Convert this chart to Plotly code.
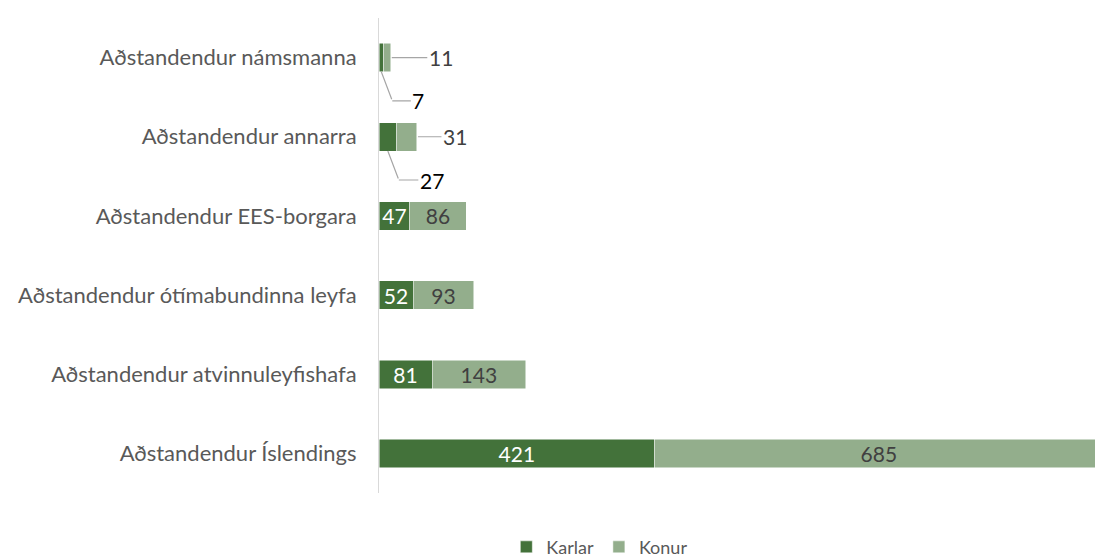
import plotly.graph_objects as go

categories = [
    "Aðstandendur Íslendings",
    "Aðstandendur atvinnuleyfishafa",
    "Aðstandendur ótímabundinna leyfa",
    "Aðstandendur EES-borgara",
    "Aðstandendur annarra",
    "Aðstandendur námsmanna",
]
karlar = [421, 81, 52, 47, 27, 7]
konur = [685, 143, 93, 86, 31, 11]
# categories whose labels sit outside the bar with leader lines
callout = ["Aðstandendur annarra", "Aðstandendur námsmanna"]

DARK = "#43723A"
LIGHT = "#93AE8C"
FONT = "Lato, Open Sans, sans-serif"
FS = 21


def inside_text(vals):
    return ["" if c in callout else str(v) for c, v in zip(categories, vals)]


fig = go.Figure()
fig.add_trace(go.Bar(
    y=categories, x=karlar, name="Karlar", orientation="h",
    marker=dict(color=DARK, line=dict(color="white", width=0.5)),
    text=inside_text(karlar), textposition="inside", insidetextanchor="middle",
    textangle=0,
    textfont=dict(color="white", size=FS, family=FONT),
    constraintext="none", hoverinfo="x+name",
))
fig.add_trace(go.Bar(
    y=categories, x=konur, name="Konur", orientation="h",
    marker=dict(color=LIGHT, line=dict(color="white", width=0.5)),
    text=inside_text(konur), textposition="inside", insidetextanchor="middle",
    textangle=0,
    textfont=dict(color="#404040", size=FS, family=FONT),
    constraintext="none", hoverinfo="x+name",
))

# callout labels with leader lines
line_col = "#a6a6a6"
for c in callout:
    i = categories.index(c)
    k, w = karlar[i], konur[i]
    # Konur: horizontal line from end of bar to the right
    fig.add_annotation(
        x=k + w, y=i, xref="x", yref="y", text=str(w),
        showarrow=True, arrowhead=0, arrowwidth=1.2, arrowcolor=line_col,
        ax=50 if w < 20 else 38, ay=0, standoff=1,
        font=dict(size=FS, family=FONT, color="#404040"),
    )
    # Karlar: diagonal line down from bottom of bar, then short horizontal
    fig.add_annotation(
        x=k / 2, y=i - 0.18, xref="x", yref="y", text="",
        showarrow=True, arrowhead=0, arrowwidth=1.2, arrowcolor=line_col,
        ax=11, ay=29,
    )
    fig.add_annotation(
        x=k / 2, y=i - 0.18, xref="x", yref="y", text=str(k),
        xshift=11, yshift=-29,
        showarrow=True, arrowhead=0, arrowwidth=1.2, arrowcolor=line_col,
        ax=26 if k < 10 else 33, ay=0, standoff=0,
        font=dict(size=FS, family=FONT, color="black"),
    )

fig.update_layout(
    barmode="stack",
    bargap=0.64,
    width=1095, height=558,
    margin=dict(l=371, r=0, t=10, b=66),
    plot_bgcolor="white", paper_bgcolor="white",
    font=dict(family=FONT, size=22, color="#595959"),
    xaxis=dict(range=[0, 1106], showgrid=False, showticklabels=False,
               zeroline=False, showline=False),
    yaxis=dict(showline=True, linecolor="#d9d9d9", linewidth=1,
               ticks="", ticklabelstandoff=17, showgrid=False),
    legend=dict(orientation="h", x=0.305, xanchor="center", y=-0.114,
                yanchor="middle", font=dict(size=18, color="#595959"),
                traceorder="normal", itemwidth=30, tracegroupgap=0),
    showlegend=True,
)

fig.write_html("out.html")
